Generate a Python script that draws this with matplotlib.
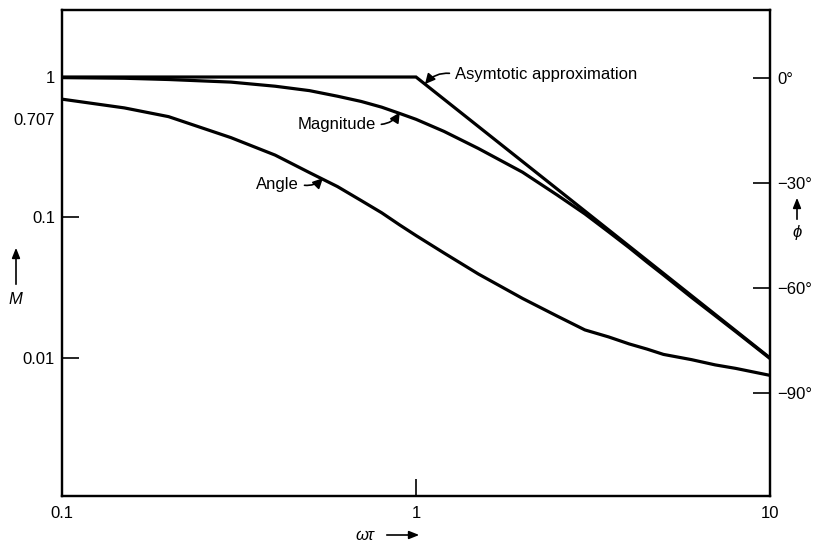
import matplotlib
matplotlib.use("Agg")
import matplotlib.pyplot as plt
from matplotlib.patches import FancyArrowPatch
from matplotlib.ticker import FixedLocator, FixedFormatter, NullFormatter

plt.rcParams["font.family"] = ["Liberation Sans", "DejaVu Sans"]

# Normalised frequency omega*tau
omega = [0.1, 0.15, 0.2, 0.3, 0.4, 0.5, 0.6, 0.7, 0.8, 0.9, 1.0, 1.2, 1.5,
         2.0, 2.5, 3.0, 3.5, 4.0, 4.5, 5.0, 6.0, 7.0, 8.0, 10.0]
# Magnitude response M
magnitude = [0.99, 0.98, 0.96, 0.92, 0.86, 0.80, 0.73, 0.67, 0.61, 0.55, 0.50,
             0.41, 0.31, 0.21, 0.145, 0.106, 0.079, 0.061, 0.048, 0.039, 0.027,
             0.0200, 0.0154, 0.0099]
# Phase angle phi in degrees
angle = [-6, -8.5, -11, -17, -22, -27, -31, -35, -38.5, -42, -45, -50, -56,
         -63, -68, -72, -74, -76, -77.5, -79, -80.5, -82, -83, -85]
# Straight-line (asymptotic) approximation of the magnitude
asym_omega = [0.1, 1.0, 10.0]
asym_mag = [1.0, 1.0, 0.01]

m_marked = [0.1, 0.01]
m_marked_labels = ["0.1", "0.01"]
m_plain = [1, 0.5]
m_plain_labels = ["1", "0.707"]
phi_ticks = [0, -30, -60, -90]
phi_labels = ["0\u00b0", "\u221230\u00b0", "\u221260\u00b0", "\u221290\u00b0"]
x_marked = [1]
x_marked_labels = ["1"]
x_plain = [0.1, 10]
x_plain_labels = ["0.1", "10"]

W, H = 818, 547
fig = plt.figure(figsize=(W / 100, H / 100), dpi=100)
ax = fig.add_axes([62 / W, (H - 496) / H, (770 - 62) / W, (496 - 10) / H])

lw = 2.3
ax.plot(asym_omega, asym_mag, color="black", lw=lw, solid_joinstyle="miter")
ax.plot(omega, magnitude, color="black", lw=lw)

ax.set_xscale("log")
ax.set_yscale("log")
ax.set_xlim(0.1, 10)
ax.set_ylim(1.04e-3, 3.0)

ax2 = ax.twinx()
ax2.plot(omega, angle, color="black", lw=lw)
ax2.set_ylim(-119.5, 19.5)

for a in (ax, ax2):
    for s in a.spines.values():
        s.set_linewidth(1.6)

# Major ticks carry a mark, minor ticks only a label
ax.xaxis.set_major_locator(FixedLocator(x_marked))
ax.xaxis.set_major_formatter(FixedFormatter(x_marked_labels))
ax.xaxis.set_minor_locator(FixedLocator(x_plain))
ax.xaxis.set_minor_formatter(FixedFormatter(x_plain_labels))
ax.yaxis.set_major_locator(FixedLocator(m_marked))
ax.yaxis.set_major_formatter(FixedFormatter(m_marked_labels))
ax.yaxis.set_minor_locator(FixedLocator(m_plain))
ax.yaxis.set_minor_formatter(FixedFormatter(m_plain_labels))
ax.tick_params(axis="both", which="major", direction="in", length=12, width=1.2,
               labelsize=12, pad=5)
ax.tick_params(axis="both", which="minor", direction="in", length=0,
               labelsize=12, pad=5)
ax.tick_params(axis="x", which="both", pad=7)

ax2.yaxis.set_major_locator(FixedLocator(phi_ticks))
ax2.yaxis.set_major_formatter(FixedFormatter(phi_labels))
ax2.yaxis.set_minor_formatter(NullFormatter())
ax2.tick_params(axis="y", which="major", direction="in", length=12, width=1.2,
                labelsize=12, pad=5)
ax2.tick_params(axis="y", which="minor", length=0)

# Curve annotations with curved pointer arrows
arrow = dict(arrowstyle="-|>,head_length=0.5,head_width=0.25", color="black",
             lw=1.2, shrinkA=2, shrinkB=0)
ax.annotate("Asymtotic approximation", xy=(1.06, 0.89), xytext=(30, 10),
            textcoords="offset pixels", ha="left", va="center", fontsize=12,
            arrowprops=dict(arrow, relpos=(0, 0.5),
                            connectionstyle="arc3,rad=0.3"))
ax.annotate("Magnitude", xy=(0.90, 0.56), xytext=(-24, -12),
            textcoords="offset pixels", ha="right", va="center", fontsize=12,
            arrowprops=dict(arrow, relpos=(1, 0.5),
                            connectionstyle="arc3,rad=0.3"))
ax2.annotate("Angle", xy=(0.546, -28.6), xytext=(-24, -6),
             textcoords="offset pixels", ha="right", va="center", fontsize=12,
             arrowprops=dict(arrow, relpos=(1, 0.5),
                             connectionstyle="arc3,rad=0.3"))

# Axis names with upward / rightward arrows
arrow_kw = dict(transform=fig.transFigure,
                arrowstyle="-|>,head_length=0.5,head_width=0.2",
                color="black", lw=1.2, mutation_scale=12)

fig.text(15 / W, 1 - 300 / H, "M", fontsize=12, style="italic", ha="center", va="center")
fig.add_artist(FancyArrowPatch((16 / W, 1 - 287 / H), (16 / W, 1 - 245 / H), **arrow_kw))

fig.text(797 / W, 1 - 232 / H, "\u03d5", fontsize=12, style="italic", ha="center", va="center")
fig.add_artist(FancyArrowPatch((797 / W, 1 - 222 / H), (797 / W, 1 - 195 / H), **arrow_kw))

fig.text(365 / W, 1 - 535 / H, "\u03c9\u03c4", fontsize=12, style="italic", ha="center", va="center")
fig.add_artist(FancyArrowPatch((384 / W, 1 - 535 / H), (422 / W, 1 - 535 / H), **arrow_kw))

fig.savefig("out.png", dpi=100)
